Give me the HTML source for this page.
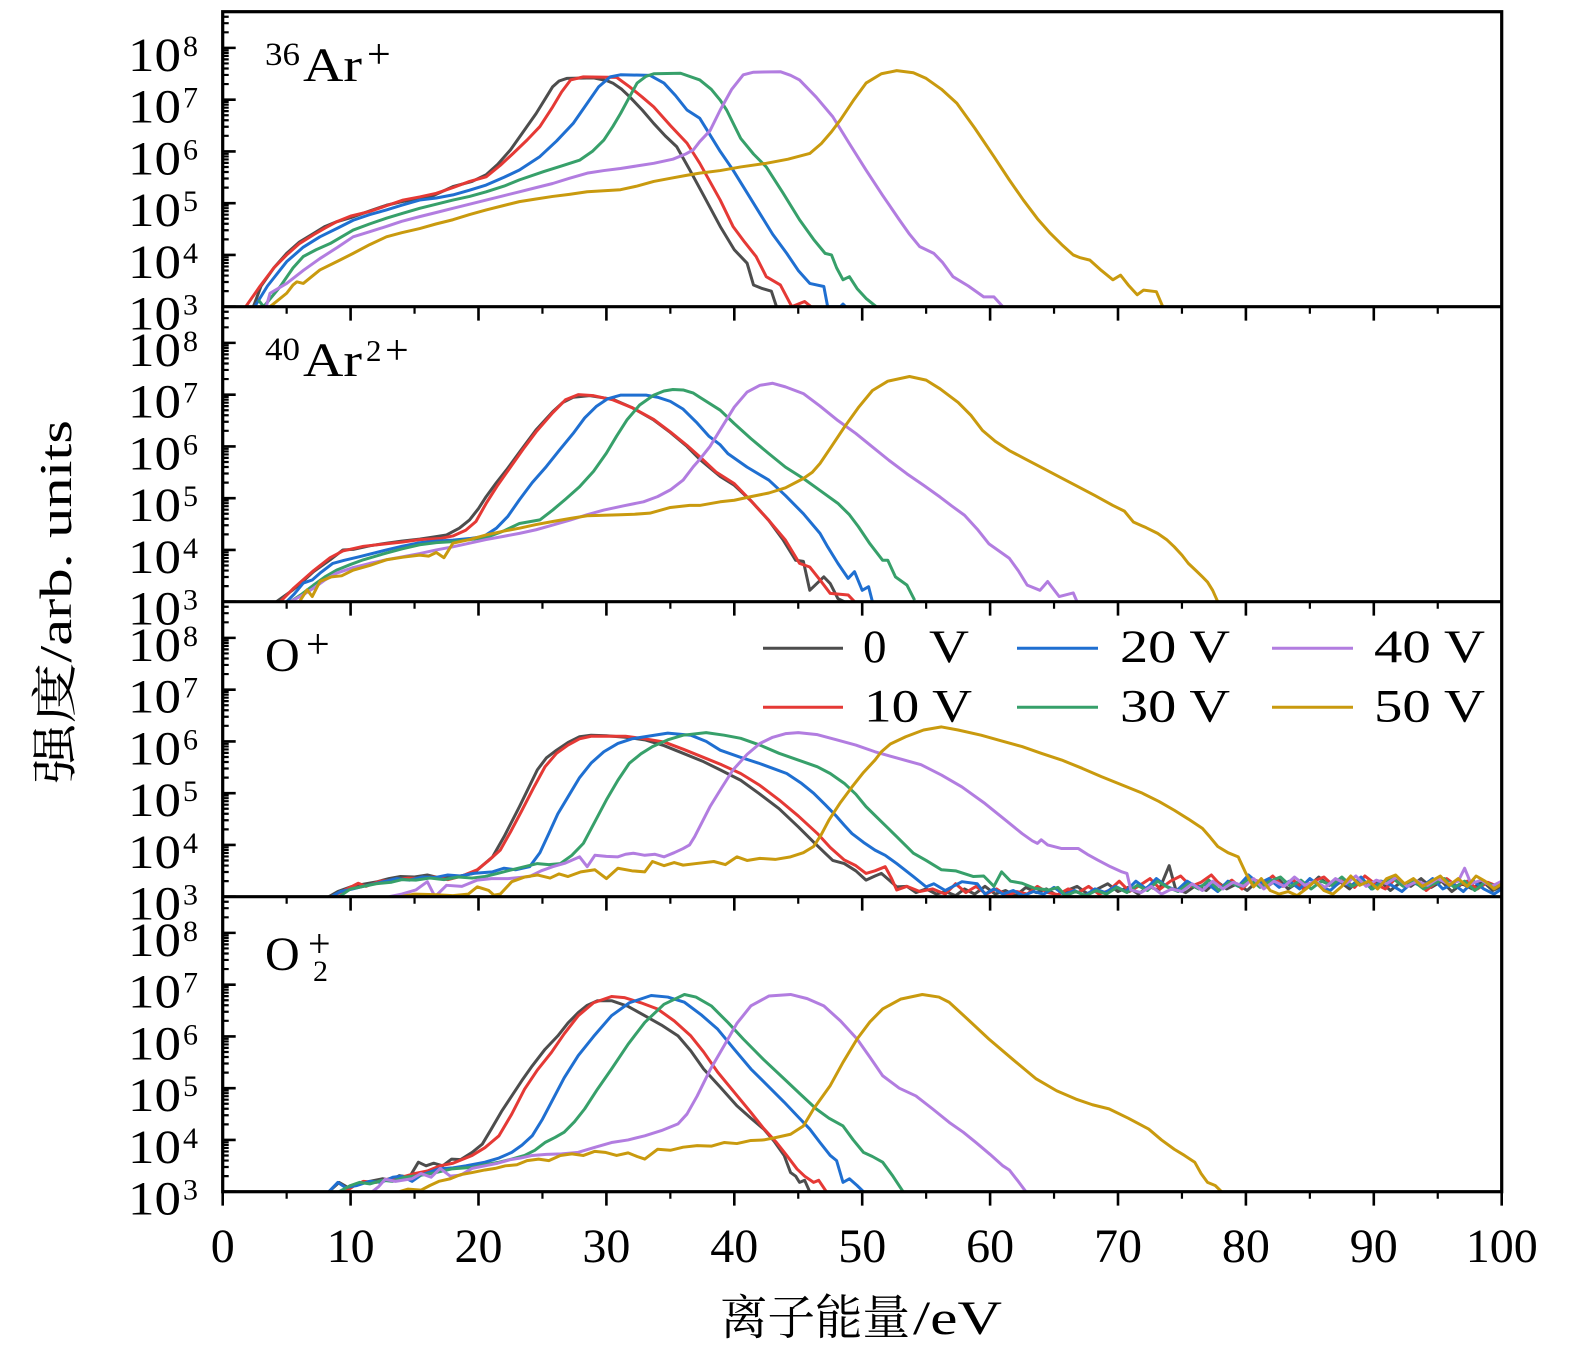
<!DOCTYPE html>
<html>
<head>
<meta charset="utf-8">
<style>
html,body{margin:0;padding:0;background:#fff;}
svg{display:block;}
</style>
</head>
<body>
<svg width="1575" height="1358" viewBox="0 0 1575 1358" xmlns="http://www.w3.org/2000/svg" font-family="'Liberation Serif', serif">
<defs>
<clipPath id="cp1"><rect x="222.7" y="11.7" width="1279" height="295"/></clipPath>
<clipPath id="cp2"><rect x="222.7" y="306.7" width="1279" height="295"/></clipPath>
<clipPath id="cp3"><rect x="222.7" y="601.7" width="1279" height="295"/></clipPath>
<clipPath id="cp4"><rect x="222.7" y="896.7" width="1279" height="295"/></clipPath>
<g id="tk" fill="none" stroke="#000">
<path vector-effect="non-scaling-stroke" stroke-width="2.6" d="M0 0H1.016M0 1H1.016M0 2H1.016M0 3H1.016M0 4H1.016M0 5H1.016"/>
<path vector-effect="non-scaling-stroke" stroke-width="2.2" d="M0 0.301H0.47M0 0.477H0.47M0 0.602H0.47M0 0.699H0.47M0 0.778H0.47M0 0.845H0.47M0 0.903H0.47M0 0.954H0.47M0 1.301H0.47M0 1.477H0.47M0 1.602H0.47M0 1.699H0.47M0 1.778H0.47M0 1.845H0.47M0 1.903H0.47M0 1.954H0.47M0 2.301H0.47M0 2.477H0.47M0 2.602H0.47M0 2.699H0.47M0 2.778H0.47M0 2.845H0.47M0 2.903H0.47M0 2.954H0.47M0 3.301H0.47M0 3.477H0.47M0 3.602H0.47M0 3.699H0.47M0 3.778H0.47M0 3.845H0.47M0 3.903H0.47M0 3.954H0.47M0 4.301H0.47M0 4.477H0.47M0 4.602H0.47M0 4.699H0.47M0 4.778H0.47M0 4.845H0.47M0 4.903H0.47M0 4.954H0.47M0 5.301H0.47M0 5.477H0.47M0 5.602H0.47"/>
<path vector-effect="non-scaling-stroke" stroke-width="2.6" d="M0 0V-0.27M10 0V-0.27M20 0V-0.27M30 0V-0.27M40 0V-0.27M50 0V-0.27M60 0V-0.27M70 0V-0.27M80 0V-0.27M90 0V-0.27M100 0V-0.27"/>
<path vector-effect="non-scaling-stroke" stroke-width="2.2" d="M5 0V-0.135M15 0V-0.135M25 0V-0.135M35 0V-0.135M45 0V-0.135M55 0V-0.135M65 0V-0.135M75 0V-0.135M85 0V-0.135M95 0V-0.135"/>
</g>
</defs>

<!-- ============ PANEL 1 ============ -->
<g clip-path="url(#cp1)">
<g transform="translate(222.7 306.7) scale(12.79 -51.764)" fill="none" stroke-width="3" stroke-linejoin="round">
<polyline vector-effect="non-scaling-stroke" stroke="#4d4d4d" points="2.4,0 3.0,0.4 4.0,0.75 5.0,1.03 6.0,1.25 7.0,1.4 8.0,1.55 8.9,1.64 10,1.72 11.5,1.85 12.8,1.96 14,2.03 15.4,2.09 16.5,2.15 18,2.32 19.5,2.42 20.6,2.55 21.5,2.75 22.5,3.03 23.5,3.38 24.5,3.73 25.3,4.05 25.8,4.25 26.3,4.36 26.9,4.41 29.0,4.42 30.0,4.37 30.5,4.32 31.2,4.2 31.8,4.06 32.8,3.8 33.7,3.54 34.6,3.3 35.5,3.09 36.5,2.65 37.6,2.15 38.9,1.55 40.0,1.1 41.0,0.84 41.5,0.42 42.2,0.35 42.9,0.3 43.3,0"/>
<polyline vector-effect="non-scaling-stroke" stroke="#e53935" points="1.8,0 2.9,0.39 4.0,0.75 5.0,1.0 6.0,1.22 7.1,1.39 8.0,1.52 8.9,1.64 10,1.75 11.5,1.84 12.8,1.95 14.1,2.06 15.4,2.12 16.7,2.19 18,2.3 19.3,2.42 20.6,2.51 21.7,2.73 22.7,2.96 23.8,3.22 24.8,3.48 25.8,3.86 26.5,4.15 27.2,4.38 28.2,4.44 30.8,4.43 31.8,4.25 32.8,4.05 33.7,3.86 35.0,3.5 36.3,3.16 37.3,2.77 38.9,2.06 39.9,1.55 40.8,1.25 41.7,0.97 42.5,0.58 43.6,0.42 44.5,0 45.5,0.1 46,0"/>
<polyline vector-effect="non-scaling-stroke" stroke="#1f6fd1" points="2.5,0 3.5,0.4 5.0,0.87 6.3,1.15 7.6,1.35 9.0,1.52 10.2,1.67 11.5,1.78 12.8,1.87 14,1.96 15.4,2.06 16.7,2.1 18,2.16 19.3,2.25 20.6,2.35 22,2.5 23.2,2.64 24.8,2.9 26.1,3.2 27.4,3.54 28.5,3.93 29.4,4.25 30.3,4.44 31.1,4.48 33.4,4.47 34.5,4.32 35.4,4.08 36.3,3.8 37.3,3.64 38.9,3.0 39.9,2.64 41,2.2 42.0,1.80 43,1.4 44.1,1.03 45,0.7 45.9,0.45 47.0,0.39 47.3,0 48.3,0 48.5,0.05 48.7,0"/>
<polyline vector-effect="non-scaling-stroke" stroke="#37a06a" points="2.8,0.13 3.2,0 4.5,0.39 5.5,0.75 6.3,0.97 7.3,1.1 8.4,1.22 10.2,1.48 11.5,1.6 12.8,1.71 14,1.8 15.4,1.9 16.7,1.98 18.0,2.06 19.3,2.13 20.6,2.22 22,2.33 23.2,2.45 25.1,2.61 26.5,2.72 27.9,2.83 28.9,3.0 29.8,3.22 30.5,3.48 31.1,3.73 31.8,4.05 32.4,4.32 33.1,4.45 33.7,4.5 35.8,4.51 37.3,4.38 38.2,4.2 38.9,3.99 39.4,3.8 40.5,3.25 41.5,2.95 42.5,2.70 43.8,2.2 45.1,1.68 46.2,1.3 47.1,1.03 47.6,1.0 48.0,0.75 48.5,0.52 49.0,0.58 49.6,0.35 50.3,0.16 51.1,0"/>
<polyline vector-effect="non-scaling-stroke" stroke="#b27de0" points="3.4,0 3.7,0.26 5.0,0.45 6.3,0.7 7.6,0.93 9,1.15 10.2,1.35 11.5,1.45 12.8,1.55 14,1.65 15.4,1.74 16.7,1.82 18.0,1.9 19.3,1.98 20.6,2.06 21.9,2.14 23.2,2.22 24.5,2.3 25.8,2.38 27.1,2.48 28.5,2.58 29.8,2.63 31.1,2.67 32.4,2.72 33.7,2.77 35.2,2.85 36.2,2.95 36.8,3.03 37.3,3.19 38.1,3.4 38.9,3.8 39.8,4.2 40.7,4.48 41.5,4.53 43.6,4.54 44.4,4.47 45.1,4.38 46.4,4.05 47.7,3.67 49,3.15 50.3,2.64 51.6,2.15 52.9,1.68 53.7,1.4 54.5,1.16 55.6,1.03 56.3,0.85 57.1,0.58 58.3,0.4 59.5,0.19 60.3,0.19 61.0,0"/>
<polyline vector-effect="non-scaling-stroke" stroke="#c99a0e" points="3.7,0 5.0,0.26 5.5,0.42 5.8,0.48 6.3,0.45 7.6,0.71 9,0.88 10.2,1.03 11.5,1.2 12.8,1.35 14,1.43 15.4,1.51 16.7,1.6 18.0,1.68 19.3,1.78 20.6,1.87 21.9,1.95 23.2,2.03 24.5,2.08 25.8,2.13 27.1,2.17 28.5,2.22 29.8,2.24 31.1,2.26 32.4,2.33 33.7,2.42 35,2.48 36.3,2.54 37.3,2.58 38.9,2.63 40.5,2.7 42.5,2.77 44.2,2.85 45.9,2.96 46.8,3.15 47.6,3.38 48.3,3.61 49.3,3.98 50.3,4.32 51.5,4.5 52.7,4.56 54.0,4.52 55.0,4.41 56.2,4.2 57.4,3.93 58.8,3.45 60.3,2.90 61.5,2.45 62.6,2.06 63.7,1.7 64.7,1.42 65.6,1.2 66.5,1.0 67.0,0.95 67.8,0.9 68.7,0.7 69.6,0.52 70.2,0.61 70.8,0.42 71.5,0.23 72.0,0.32 73.0,0.29 73.5,0"/>
</g>
</g>

<!-- ============ PANEL 2 ============ -->
<g clip-path="url(#cp2)">
<g transform="translate(222.7 601.7) scale(12.79 -51.764)" fill="none" stroke-width="3" stroke-linejoin="round">
<polyline vector-effect="non-scaling-stroke" stroke="#4d4d4d" points="4.2,0 5.5,0.23 6.3,0.4 7.1,0.58 8.4,0.81 9.4,1.0 10.2,1.01 11.5,1.08 12.8,1.13 14,1.17 15.4,1.21 16.5,1.25 17.5,1.29 18.5,1.42 19.3,1.58 20.0,1.8 20.6,2.03 21.4,2.3 22.2,2.55 23.3,2.92 24.5,3.32 25.8,3.67 26.6,3.85 27.4,3.95 28.7,3.98 30.5,3.91 32,3.75 33.7,3.51 35,3.27 36.3,3.0 37.3,2.75 38.9,2.42 40,2.25 41.3,1.95 42.7,1.57 43.8,1.2 44.8,0.80 45.4,0.78 45.9,0.22 47,0.48 47.5,0.35 48.1,0.06 48.6,0"/>
<polyline vector-effect="non-scaling-stroke" stroke="#e53935" points="4.5,0 5.5,0.25 7.1,0.6 8.4,0.85 9.4,0.98 11,1.07 12.8,1.12 14,1.15 15.4,1.2 17,1.22 18,1.27 19,1.38 19.8,1.55 20.6,1.9 21.5,2.25 22.5,2.6 23.5,2.95 24.5,3.28 25.8,3.65 26.8,3.9 27.8,4.0 29,3.98 30.5,3.9 32,3.75 33.7,3.52 35,3.28 36.3,3.02 37.3,2.8 38.6,2.5 40,2.28 41.3,1.95 42.7,1.57 44,1.19 45.1,0.74 45.9,0.67 46.7,0.42 47.5,0.16 48.9,0.13 49.4,0"/>
<polyline vector-effect="non-scaling-stroke" stroke="#1f6fd1" points="5.0,0 5.6,0.15 6.3,0.36 7.0,0.42 7.6,0.55 8.6,0.74 9.5,0.8 10.7,0.87 12.8,1.0 14,1.07 15.4,1.14 16.7,1.17 18.0,1.19 19.3,1.22 20.4,1.26 21.4,1.42 22.3,1.65 23.2,1.97 24.2,2.3 25.3,2.61 26.3,2.92 27.4,3.25 28.3,3.55 29.2,3.77 30.1,3.92 31.1,3.99 33.1,3.99 34,3.95 35.0,3.87 36,3.72 37.1,3.45 38,3.2 38.9,3.03 39.5,2.86 41,2.6 42.7,2.35 44,2.05 45.4,1.70 46.7,1.32 47.3,1.06 48.1,0.74 48.9,0.45 49.4,0.58 50,0.22 50.5,0.29 50.8,0"/>
<polyline vector-effect="non-scaling-stroke" stroke="#37a06a" points="5.3,0 6.2,0.15 7.1,0.32 8.0,0.48 8.9,0.61 10,0.72 11,0.81 12.8,0.94 14,1.02 15.4,1.1 16.7,1.14 18.0,1.16 19.3,1.2 20.6,1.24 21.9,1.36 23.2,1.51 24.8,1.58 25.8,1.77 26.8,1.98 27.9,2.22 29,2.52 30.0,2.87 30.8,3.2 31.6,3.51 32.6,3.8 33.7,3.99 34.5,4.07 35.2,4.1 36.0,4.09 36.8,4.03 37.3,3.95 38.9,3.7 40,3.44 41.3,3.15 42.7,2.86 44,2.6 45.4,2.38 46.7,2.15 48.1,1.9 49.0,1.68 49.7,1.45 50.6,1.12 51.6,0.80 52.0,0.80 52.6,0.48 53.5,0.32 54.1,0.03"/>
<polyline vector-effect="non-scaling-stroke" stroke="#b27de0" points="5.3,0 6.2,0.12 7.1,0.26 8.0,0.42 8.9,0.55 10.2,0.66 11.5,0.74 12.8,0.81 14.1,0.87 15.4,0.93 16.7,1.0 18,1.06 19.3,1.13 20.6,1.2 21.9,1.26 23.2,1.32 24.5,1.39 25.8,1.48 27.2,1.58 28.5,1.68 29.8,1.77 31.3,1.85 32.9,1.93 34,2.03 35.0,2.16 36.0,2.35 36.8,2.61 37.3,2.75 38.1,3.0 38.9,3.32 40,3.76 41,4.05 42,4.18 43,4.22 44,4.15 45.4,4.02 46.7,3.78 48.1,3.5 49.5,3.25 50.8,2.99 52.1,2.73 53.5,2.47 54.8,2.25 56.1,2.02 57,1.85 58,1.67 59,1.4 59.9,1.12 61.5,0.84 62.2,0.6 62.9,0.32 63.9,0.22 64.5,0.39 65.4,0.1 66.5,0.17 66.8,0"/>
<polyline vector-effect="non-scaling-stroke" stroke="#c99a0e" points="6.0,0 6.6,0.23 7.0,0.1 7.6,0.39 8.5,0.48 9.3,0.5 10.2,0.61 11.5,0.7 12.8,0.81 14.1,0.86 15.4,0.9 16.1,0.88 16.7,0.95 17.3,0.85 18.0,1.13 19.3,1.2 20.6,1.29 21.9,1.36 23.2,1.42 24.5,1.49 25.8,1.55 27.2,1.61 28.5,1.66 29.8,1.67 31.1,1.68 32.2,1.69 33.4,1.71 35.0,1.82 36.5,1.86 37.3,1.86 38.9,1.93 40,1.96 41.3,2.03 42.7,2.1 44,2.2 45.4,2.38 46.1,2.5 46.7,2.67 47.6,3.0 48.6,3.37 49.7,3.75 50.8,4.08 52,4.26 53.7,4.35 55,4.28 56.1,4.11 57.5,3.85 58.5,3.6 59.4,3.31 60.4,3.1 61.5,2.92 62.8,2.75 64.2,2.57 65.5,2.4 66.9,2.22 68.2,2.05 69.6,1.86 70.5,1.75 71.2,1.54 72.2,1.43 73.1,1.32 73.8,1.2 74.4,1.06 75,0.9 75.5,0.74 76.1,0.6 76.6,0.48 77.0,0.38 77.4,0.22 77.8,0"/>
</g>
</g>

<!-- ============ PANEL 3 ============ -->
<g clip-path="url(#cp3)">
<g transform="translate(222.7 896.7) scale(12.79 -51.764)" fill="none" stroke-width="3" stroke-linejoin="round">
<polyline vector-effect="non-scaling-stroke" stroke="#4d4d4d" points="8.3,0 9,0.1 10,0.19 11,0.24 12.1,0.29 13,0.35 13.9,0.39 15,0.38 16,0.42 17,0.36 18.1,0.38 19,0.42 19.6,0.45 20.3,0.6 21.1,0.77 22,1.16 23.2,1.74 24.6,2.45 25.3,2.68 26.1,2.83 27,2.98 27.9,3.09 28.8,3.12 30,3.11 31.5,3.08 33,3.03 34.5,2.92 36,2.77 37.5,2.62 38.9,2.45 40.5,2.25 41.9,2.0 43.5,1.7 45,1.35 46.1,1.08 47.1,0.84 47.7,0.7 48.6,0.64 49.5,0.5 50.3,0.32 51,0.4 51.5,0.45 52.2,0.3 52.7,0.19 53.5,0.2 54.2,0.08 55,0.15 55.8,0.05 56.5,0.1 57.3,0.02 58,0.15 58.8,0.05 59.6,0.2 60.4,0.05 61.2,0.12 62,0.02 62.8,0.18 63.6,0.08 64.4,0.15 65.2,0.03 66,0.12 66.8,0.2 67.6,0.06 68.4,0.15 69.2,0.25 70,0.1 70.8,0.18 71.6,0.05 72.4,0.2 73.2,0.12 74,0.6 74.5,0.15 75.3,0.08 76.1,0.22 76.9,0.12 77.7,0.3 78.5,0.15 79.3,0.25 80.1,0.12 80.9,0.3 81.7,0.2 82.5,0.35 83.3,0.15 84.1,0.28 84.9,0.2 85.7,0.38 86.5,0.22 87.3,0.3 88.1,0.15 88.9,0.35 89.7,0.2 90.5,0.3 91.3,0.12 92.1,0.28 92.9,0.2 93.7,0.35 94.5,0.18 95.3,0.3 96.1,0.1 96.9,0.25 97.7,0.15 98.5,0.3 99.3,0.12 100,0.2"/>
<polyline vector-effect="non-scaling-stroke" stroke="#e53935" points="8.5,0 9.5,0.12 10.6,0.26 11.2,0.2 12.3,0.3 13.4,0.32 14.5,0.36 15.5,0.35 16.5,0.38 17.6,0.33 18.7,0.4 19.9,0.52 20.8,0.7 21.7,0.9 22.5,1.25 23.4,1.67 24.3,2.1 25.2,2.51 26.1,2.77 27,2.93 27.9,3.05 28.8,3.10 31.5,3.10 33,3.05 34.5,2.99 36,2.85 37.5,2.70 39,2.55 40.5,2.38 42,2.15 43.5,1.87 45,1.56 46.5,1.22 47.5,0.95 48.6,0.71 49.5,0.6 50.3,0.45 51,0.5 51.8,0.58 52.3,0.35 52.7,0.13 53.5,0.2 54.5,0.1 55.5,0.15 56.5,0.05 57.3,0.25 58.1,0.08 58.9,0.2 59.7,0.05 60.5,0.15 61.3,0.02 62.1,0.1 62.9,0.05 63.7,0.2 64.5,0.08 65.3,0.04 66.1,0.15 66.9,0.08 67.7,0.2 68.5,0.05 69.3,0.12 70.1,0.3 70.9,0.1 71.7,0.22 72.5,0.35 73.3,0.15 74.1,0.3 74.9,0.4 75.7,0.2 76.5,0.28 77.3,0.42 78.1,0.2 78.9,0.32 79.7,0.15 80.5,0.35 81.3,0.25 82.1,0.4 82.9,0.2 83.7,0.32 84.5,0.15 85.3,0.3 86.1,0.38 86.9,0.2 87.7,0.33 88.5,0.18 89.3,0.4 90.1,0.25 90.9,0.15 91.7,0.35 92.5,0.2 93.3,0.3 94.1,0.12 94.9,0.28 95.7,0.35 96.5,0.2 97.3,0.3 98.1,0.15 98.9,0.28 99.7,0.2 100,0.25"/>
<polyline vector-effect="non-scaling-stroke" stroke="#1f6fd1" points="8.5,0 9.2,0.1 10,0.14 11,0.2 12.4,0.28 13.6,0.35 14.6,0.32 15.6,0.38 16.6,0.37 17.6,0.42 18.6,0.4 19.6,0.45 21.1,0.48 22.0,0.55 22.9,0.52 24,0.58 24.8,0.85 25.5,1.22 26.2,1.6 27,1.93 27.9,2.3 28.8,2.58 29.8,2.8 30.9,2.96 32,3.05 33,3.09 34.8,3.16 36.6,3.12 37.8,3.0 38.9,2.83 40.4,2.7 41.9,2.58 43,2.48 44.1,2.38 45.2,2.2 46.2,2.0 47.1,1.78 48,1.55 48.6,1.38 49.2,1.22 50.1,1.05 51,0.90 51.8,0.8 52.7,0.64 54,0.39 55,0.19 55.6,0.25 56.5,0.12 57.8,0.29 59,0.25 59.6,0.05 60.3,0.15 61,0.05 61.8,0.12 62.6,0.02 63.4,0.1 64.2,0.05 65,0.18 65.8,0.04 66.6,0.12 67.4,0.02 68.2,0.15 69,0.08 69.8,0.2 70.6,0.1 71.4,0.3 72.2,0.15 73,0.35 73.8,0.2 74.6,0.12 75.4,0.3 76.2,0.18 77,0.25 77.8,0.1 78.6,0.3 79.4,0.2 80.2,0.42 81,0.25 81.8,0.35 82.6,0.18 83.4,0.3 84.2,0.15 85,0.35 85.8,0.2 86.6,0.12 87.4,0.3 88.2,0.2 89,0.38 89.8,0.15 90.6,0.3 91.4,0.22 92.2,0.1 93,0.28 93.8,0.2 94.6,0.35 95.4,0.15 96.2,0.25 97,0.1 97.8,0.3 98.6,0.15 99.4,0.05 100,0.15"/>
<polyline vector-effect="non-scaling-stroke" stroke="#37a06a" points="9.1,0 10,0.15 11,0.2 12,0.25 13.2,0.28 14,0.33 15.1,0.32 16.2,0.36 17.3,0.33 18.4,0.38 19.5,0.36 20.5,0.39 21.5,0.45 22.6,0.52 23.6,0.58 24.6,0.64 25.5,0.62 26.4,0.64 27.3,0.8 28.2,1.03 29.1,1.45 30,1.87 30.9,2.25 31.8,2.58 32.7,2.76 33.6,2.90 34.8,3.03 36,3.12 37.8,3.17 39.2,3.12 40.5,3.06 42,2.93 43.5,2.77 45,2.64 46.5,2.51 47.5,2.38 48.6,2.19 49.5,1.98 50.3,1.74 51.5,1.45 52.7,1.16 54,0.84 55,0.7 56.2,0.52 57.3,0.5 58.7,0.39 59.5,0.4 60.3,0.2 60.9,0.48 61.6,0.3 62.5,0.26 63.5,0.16 64.6,0.13 65.3,0.18 65.9,0.02 66.7,0.1 67.5,0.02 68.3,0.12 69.1,0.05 69.9,0.18 70.7,0.08 71.5,0.22 72.3,0.12 73.1,0.3 73.9,0.18 74.7,0.1 75.5,0.25 76.3,0.15 77.1,0.32 77.9,0.12 78.7,0.28 79.5,0.2 80.3,0.35 81.1,0.18 81.9,0.3 82.7,0.38 83.5,0.2 84.3,0.32 85.1,0.15 85.9,0.3 86.7,0.22 87.5,0.38 88.3,0.2 89.1,0.3 89.9,0.15 90.7,0.28 91.5,0.35 92.3,0.2 93.1,0.3 93.9,0.15 94.7,0.25 95.5,0.35 96.3,0.18 97.1,0.3 97.9,0.12 98.7,0.28 99.5,0.2 100,0.3"/>
<polyline vector-effect="non-scaling-stroke" stroke="#b27de0" points="13,0 14,0.05 15.1,0.13 16,0.29 16.6,0 17.5,0.22 18.7,0.2 19.9,0.32 21,0.35 22.3,0.35 23.2,0.37 24,0.39 24.9,0.5 25.8,0.58 26.8,0.65 27.9,0.77 28.5,0.58 29.1,0.80 30,0.78 30.9,0.77 31.5,0.82 32.1,0.84 33,0.8 33.8,0.82 34.5,0.77 35.3,0.85 36,0.93 36.5,1.0 36.9,1.16 37.5,1.45 38.1,1.74 39,2.1 39.9,2.45 41,2.75 42,2.96 43,3.08 44,3.15 45,3.17 46.5,3.13 48,3.03 49.5,2.93 51,2.80 52.7,2.68 54.6,2.55 56.2,2.35 57.8,2.12 59.6,1.80 61.2,1.48 62.5,1.22 63.3,1.08 63.7,1.03 64,1.1 64.5,1.0 65.6,0.93 66.9,0.93 67.6,0.82 68.4,0.71 69.4,0.58 70.3,0.48 70.7,0.45 71,0.13 71.8,0.08 72.6,0.2 73.4,0.05 74.2,0.15 75,0.1 75.8,0.25 76.6,0.12 77.4,0.3 78.2,0.15 79,0.28 79.8,0.2 80.6,0.35 81.4,0.15 82.2,0.3 83,0.2 83.8,0.38 84.6,0.22 85.4,0.3 86.2,0.18 87,0.35 87.8,0.25 88.6,0.4 89.4,0.2 90.2,0.32 91,0.25 91.8,0.38 92.6,0.2 93.4,0.3 94.2,0.22 95,0.35 95.8,0.25 96.6,0.3 97.1,0.55 97.6,0.25 98.4,0.32 99.2,0.2 100,0.3"/>
<polyline vector-effect="non-scaling-stroke" stroke="#c99a0e" points="13.9,0 15,0.05 16.5,0.04 18,0.02 19.2,0.05 19.9,0.19 20.8,0.12 21.2,0.03 21.7,0.05 22.6,0.29 23.6,0.38 24.6,0.42 25.6,0.36 26.3,0.44 27,0.39 28,0.48 29.1,0.52 30,0.35 30.9,0.55 32,0.5 33,0.48 33.6,0.68 34.5,0.6 35.3,0.66 36,0.61 37,0.64 38.4,0.68 39.3,0.62 40.2,0.77 41,0.7 42,0.74 43.2,0.72 44.4,0.77 45.4,0.85 46.2,0.97 46.8,1.2 47.4,1.48 48.3,1.82 49.2,2.12 50.1,2.4 51,2.64 51.5,2.80 52.2,2.95 53.4,3.09 54.8,3.22 56.2,3.28 57.5,3.22 59.3,3.12 60.9,3.01 62.5,2.90 64,2.77 65.6,2.64 67.2,2.48 68.7,2.32 70.3,2.16 71.9,2.0 73.2,1.84 74.4,1.67 75.5,1.5 76.6,1.32 77.2,1.15 77.8,0.97 78.6,0.85 79.4,0.77 80,0.45 80.6,0.19 81.2,0.35 81.9,0.12 82.6,0.05 83.3,0.1 84,0.02 84.7,0.15 85.4,0.3 86.1,0.12 86.8,0.05 87.5,0.2 88.2,0.4 88.9,0.22 89.6,0.3 90.3,0.15 91,0.35 91.7,0.42 92.4,0.25 93.1,0.35 93.8,0.2 94.5,0.3 95.2,0.4 95.9,0.22 96.6,0.35 97.3,0.2 98,0.4 98.7,0.3 99.4,0.15 100,0.25"/>
</g>
</g>

<!-- ============ PANEL 4 ============ -->
<g clip-path="url(#cp4)">
<g transform="translate(222.7 1191.7) scale(12.79 -51.764)" fill="none" stroke-width="3" stroke-linejoin="round">
<polyline vector-effect="non-scaling-stroke" stroke="#4d4d4d" points="8.3,0 9.1,0.18 9.8,0.08 10.6,0.15 11.7,0.21 12.5,0.25 13.2,0.22 13.8,0.31 14.6,0.28 15.3,0.57 15.9,0.5 16.5,0.55 17.2,0.5 17.9,0.63 18.6,0.62 19.5,0.76 20.3,0.92 21.0,1.21 21.8,1.55 22.6,1.85 23.4,2.15 24.2,2.43 25.2,2.75 26.2,3.01 27,3.26 27.8,3.46 28.5,3.6 29.3,3.69 30.4,3.69 31.7,3.58 33.0,3.40 34.3,3.22 35.6,3.01 36.6,2.72 37.6,2.37 38.9,2.02 40.2,1.66 41.3,1.42 42.3,1.21 43.1,0.98 43.9,0.70 44.4,0.37 44.8,0.3 45.1,0.18 45.5,0.22 45.9,0"/>
<polyline vector-effect="non-scaling-stroke" stroke="#e53935" points="9.6,0 10.3,0.12 11,0.2 12,0.18 13,0.25 14,0.28 15,0.35 16,0.4 17,0.5 18,0.55 19.5,0.70 20.5,0.85 21.6,1.08 22.6,1.5 23.6,1.98 24.6,2.35 25.7,2.69 26.7,3.05 27.8,3.40 29,3.65 30.4,3.77 31.4,3.75 32.7,3.65 34.0,3.53 35.3,3.3 36.6,3.01 37.6,2.7 38.7,2.31 40,1.92 41.3,1.53 42.3,1.22 43.3,0.95 44.1,0.7 44.9,0.44 45.5,0.3 46.2,0.18 46.6,0.22 47.2,0"/>
<polyline vector-effect="non-scaling-stroke" stroke="#1f6fd1" points="8.3,0 9,0.18 9.6,0.08 10.5,0.12 11.5,0.2 12.4,0.18 13.3,0.28 14,0.3 14.8,0.2 15.5,0.32 16.2,0.38 16.9,0.44 18,0.46 19,0.5 20.5,0.57 21.6,0.65 22.6,0.76 23.4,0.9 24.2,1.08 25,1.4 25.7,1.73 26.7,2.2 27.8,2.63 29,3.0 30.4,3.40 31.8,3.65 33.5,3.79 34.8,3.76 36.1,3.66 37.4,3.42 38.7,3.14 40,2.75 41.3,2.37 42.6,2.05 43.9,1.73 44.9,1.47 45.9,1.21 46.7,0.95 47.5,0.70 48,0.6 48.5,0.18 49,0.25 49.6,0.12 50.1,0"/>
<polyline vector-effect="non-scaling-stroke" stroke="#37a06a" points="9.1,0 10,0.12 10.7,0.18 11.5,0.15 12.5,0.22 13.3,0.2 14.2,0.28 15.3,0.31 16.5,0.36 17.9,0.44 19.5,0.47 20.5,0.52 21.6,0.57 22.6,0.63 23.6,0.70 24.4,0.8 25.2,0.95 26,1.05 26.7,1.15 27.5,1.35 28.3,1.60 29.3,1.98 30.4,2.37 31.7,2.85 33,3.27 34.5,3.62 36.1,3.81 37,3.76 38.2,3.59 39.5,3.27 40.7,2.95 42.3,2.55 43.9,2.18 45.1,1.9 46.4,1.60 47.4,1.42 48.5,1.27 49.3,1.0 50.1,0.76 50.8,0.68 51.6,0.57 52.4,0.3 53.2,0"/>
<polyline vector-effect="non-scaling-stroke" stroke="#b27de0" points="11.7,0 12.2,0.1 12.7,0.24 13.5,0.2 14.8,0.25 15.5,0.35 16.3,0.28 17,0.45 17.8,0.3 18.6,0.32 19.5,0.45 20.5,0.5 21.5,0.55 22.5,0.62 23.3,0.65 24.2,0.70 25.3,0.72 26.5,0.73 27.8,0.76 29,0.85 30.4,0.95 31.7,1.0 33.0,1.08 34.3,1.18 35.6,1.31 36.3,1.5 37.1,1.85 38.1,2.35 39.2,2.82 40.2,3.25 41.3,3.59 42.7,3.78 44.4,3.81 45.7,3.73 47.0,3.59 48.3,3.3 49.6,2.95 50.6,2.6 51.6,2.24 52.9,2.0 54.2,1.85 55.5,1.6 56.8,1.34 57.9,1.15 58.9,0.95 60,0.72 61.0,0.50 61.5,0.42 62.2,0.2 62.8,0"/>
<polyline vector-effect="non-scaling-stroke" stroke="#c99a0e" points="13.8,0 14.5,0.05 15.5,0.03 16.2,0.12 16.9,0.2 17.8,0.25 18.6,0.33 19.5,0.37 20.5,0.42 21.3,0.45 22.1,0.50 23,0.52 23.8,0.6 24.7,0.63 25.5,0.6 26.4,0.7 27.3,0.73 28.2,0.7 29.1,0.78 29.9,0.76 30.8,0.7 31.7,0.75 32.4,0.68 33,0.63 34,0.82 35,0.8 36,0.86 37.1,0.89 38.2,0.88 39.2,0.95 40.2,0.93 41.3,0.99 42.3,1.0 43.3,1.05 44.4,1.11 45.4,1.27 46.2,1.6 47.5,2.05 48.5,2.5 49.6,2.95 50.6,3.28 51.6,3.53 53,3.72 54.7,3.81 56,3.76 56.8,3.66 58.3,3.32 59.9,2.95 61.8,2.55 63.6,2.18 65.2,1.95 66.7,1.79 68,1.68 69.3,1.60 70.8,1.42 72.4,1.21 73.4,1.0 74.4,0.82 75.2,0.7 76.0,0.57 76.5,0.35 77.0,0.18 77.6,0.12 78.1,0"/>
</g>
</g>

<!-- ============ TICKS ============ -->
<g transform="translate(222.7 306.7) scale(12.79 -51.764)"><use href="#tk"/></g>
<g transform="translate(222.7 601.7) scale(12.79 -51.764)"><use href="#tk"/></g>
<g transform="translate(222.7 896.7) scale(12.79 -51.764)"><use href="#tk"/></g>
<g transform="translate(222.7 1191.7) scale(12.79 -51.764)"><use href="#tk"/></g>

<!-- ============ FRAME ============ -->
<g fill="none" stroke="#000" stroke-width="3.2">
<rect x="222.7" y="11.7" width="1279" height="1180"/>
<line x1="222.7" y1="306.7" x2="1501.7" y2="306.7"/>
<line x1="222.7" y1="601.7" x2="1501.7" y2="601.7"/>
<line x1="222.7" y1="896.7" x2="1501.7" y2="896.7"/>
</g>

<!-- ============ Y TICK LABELS ============ -->
<g fill="#000" font-size="48">
<text x="128" y="329.7" textLength="53" lengthAdjust="spacingAndGlyphs">10</text>
<text x="128" y="277.9" textLength="53" lengthAdjust="spacingAndGlyphs">10</text>
<text x="128" y="226.2" textLength="53" lengthAdjust="spacingAndGlyphs">10</text>
<text x="128" y="174.4" textLength="53" lengthAdjust="spacingAndGlyphs">10</text>
<text x="128" y="122.6" textLength="53" lengthAdjust="spacingAndGlyphs">10</text>
<text x="128" y="70.9" textLength="53" lengthAdjust="spacingAndGlyphs">10</text>
<text x="128" y="624.7" textLength="53" lengthAdjust="spacingAndGlyphs">10</text>
<text x="128" y="572.9" textLength="53" lengthAdjust="spacingAndGlyphs">10</text>
<text x="128" y="521.2" textLength="53" lengthAdjust="spacingAndGlyphs">10</text>
<text x="128" y="469.4" textLength="53" lengthAdjust="spacingAndGlyphs">10</text>
<text x="128" y="417.6" textLength="53" lengthAdjust="spacingAndGlyphs">10</text>
<text x="128" y="365.9" textLength="53" lengthAdjust="spacingAndGlyphs">10</text>
<text x="128" y="919.7" textLength="53" lengthAdjust="spacingAndGlyphs">10</text>
<text x="128" y="867.9" textLength="53" lengthAdjust="spacingAndGlyphs">10</text>
<text x="128" y="816.2" textLength="53" lengthAdjust="spacingAndGlyphs">10</text>
<text x="128" y="764.4" textLength="53" lengthAdjust="spacingAndGlyphs">10</text>
<text x="128" y="712.6" textLength="53" lengthAdjust="spacingAndGlyphs">10</text>
<text x="128" y="660.9" textLength="53" lengthAdjust="spacingAndGlyphs">10</text>
<text x="128" y="1214.7" textLength="53" lengthAdjust="spacingAndGlyphs">10</text>
<text x="128" y="1162.9" textLength="53" lengthAdjust="spacingAndGlyphs">10</text>
<text x="128" y="1111.2" textLength="53" lengthAdjust="spacingAndGlyphs">10</text>
<text x="128" y="1059.4" textLength="53" lengthAdjust="spacingAndGlyphs">10</text>
<text x="128" y="1007.6" textLength="53" lengthAdjust="spacingAndGlyphs">10</text>
<text x="128" y="955.9" textLength="53" lengthAdjust="spacingAndGlyphs">10</text>
</g>
<g fill="#000" font-size="30">
<text x="183" y="314.7">3</text><text x="183" y="262.9">4</text><text x="183" y="211.2">5</text><text x="183" y="159.4">6</text><text x="183" y="107.6">7</text><text x="183" y="55.9">8</text>
<text x="183" y="609.7">3</text><text x="183" y="557.9">4</text><text x="183" y="506.2">5</text><text x="183" y="454.4">6</text><text x="183" y="402.6">7</text><text x="183" y="350.9">8</text>
<text x="183" y="904.7">3</text><text x="183" y="852.9">4</text><text x="183" y="801.2">5</text><text x="183" y="749.4">6</text><text x="183" y="697.6">7</text><text x="183" y="645.9">8</text>
<text x="183" y="1199.7">3</text><text x="183" y="1147.9">4</text><text x="183" y="1096.2">5</text><text x="183" y="1044.4">6</text><text x="183" y="992.6">7</text><text x="183" y="940.9">8</text>
</g>

<!-- ============ X TICK LABELS ============ -->
<g fill="#000" font-size="48" text-anchor="middle">
<text x="222.7" y="1262">0</text>
<text x="350.6" y="1262">10</text>
<text x="478.5" y="1262">20</text>
<text x="606.4" y="1262">30</text>
<text x="734.3" y="1262">40</text>
<text x="862.2" y="1262">50</text>
<text x="990.1" y="1262">60</text>
<text x="1118.0" y="1262">70</text>
<text x="1245.9" y="1262">80</text>
<text x="1373.8" y="1262">90</text>
<text x="1501.7" y="1262">100</text>
</g>

<!-- ============ PANEL LABELS ============ -->
<g fill="#000">
<text x="265" y="65" font-size="33" textLength="35" lengthAdjust="spacingAndGlyphs">36</text>
<text x="303" y="81" font-size="48" textLength="59" lengthAdjust="spacingAndGlyphs">Ar</text>
<text x="367" y="68" font-size="42">+</text>

<text x="265" y="360" font-size="33" textLength="35" lengthAdjust="spacingAndGlyphs">40</text>
<text x="303" y="376" font-size="48" textLength="59" lengthAdjust="spacingAndGlyphs">Ar</text>
<text x="366" y="361" font-size="31">2</text>
<text x="385" y="364" font-size="42">+</text>

<text x="265" y="671" font-size="48">O</text>
<text x="306" y="658" font-size="42">+</text>

<text x="265" y="970" font-size="48">O</text>
<text x="308" y="957" font-size="40">+</text>
<text x="313" y="981" font-size="30">2</text>
</g>

<!-- ============ LEGEND ============ -->
<g stroke-width="3" fill="none">
<line x1="763" y1="648.3" x2="843" y2="648.3" stroke="#4d4d4d"/>
<line x1="763" y1="707.3" x2="843" y2="707.3" stroke="#e53935"/>
<line x1="1017" y1="648.3" x2="1098" y2="648.3" stroke="#1f6fd1"/>
<line x1="1017" y1="707.3" x2="1098" y2="707.3" stroke="#37a06a"/>
<line x1="1272" y1="648.3" x2="1353" y2="648.3" stroke="#b27de0"/>
<line x1="1272" y1="707.3" x2="1353" y2="707.3" stroke="#c99a0e"/>
</g>
<g fill="#000" font-size="47">
<text x="863" y="662">0</text>
<text x="929" y="662" textLength="40" lengthAdjust="spacingAndGlyphs">V</text>
<text x="864" y="721.7" textLength="108" lengthAdjust="spacingAndGlyphs">10 V</text>
<text x="1120" y="662" textLength="110" lengthAdjust="spacingAndGlyphs">20 V</text>
<text x="1120" y="721.7" textLength="110" lengthAdjust="spacingAndGlyphs">30 V</text>
<text x="1374" y="662" textLength="111" lengthAdjust="spacingAndGlyphs">40 V</text>
<text x="1374" y="721.7" textLength="111" lengthAdjust="spacingAndGlyphs">50 V</text>
</g>

<!-- ============ AXIS LABELS ============ -->
<text x="720" y="1334" font-size="48" font-family="'Liberation Serif','Noto Serif CJK SC',serif" textLength="190" lengthAdjust="spacingAndGlyphs">离子能量</text>
<text x="913" y="1334" font-size="48" textLength="89" lengthAdjust="spacingAndGlyphs">/eV</text>
<text transform="translate(71 602) rotate(-90)" text-anchor="middle" font-size="46" font-family="'Liberation Serif','Noto Serif CJK SC',serif" textLength="364" lengthAdjust="spacingAndGlyphs">强度/arb. units</text>
</svg>
</body>
</html>
